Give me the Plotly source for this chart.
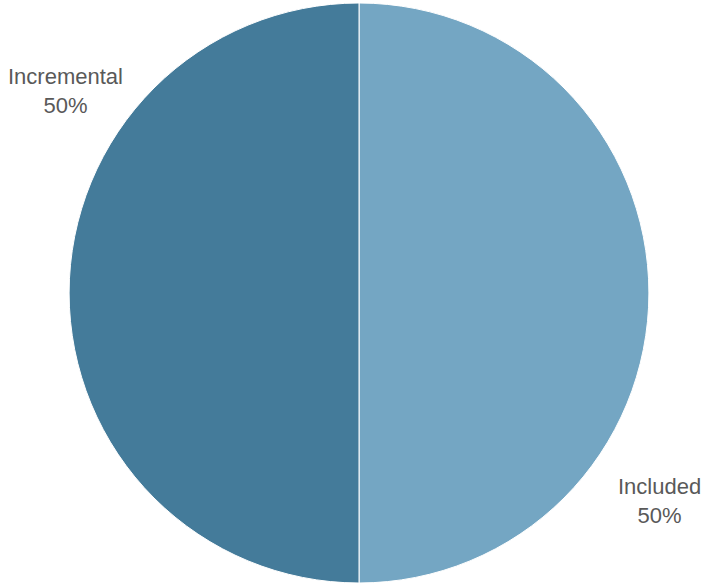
import plotly.graph_objects as go

# Share of items by category
labels = ["Included", "Incremental"]
values = [50, 50]
colors = ["#74A6C3", "#447B9A"]

W, H = 705, 584
total = sum(values)
pcts = [f"{round(v / total * 100)}%" for v in values]

fig = go.Figure(
    go.Pie(
        labels=labels,
        values=values,
        sort=False,
        direction="clockwise",
        rotation=0,
        textinfo="none",
        hoverinfo="label+percent",
        marker=dict(colors=colors, line=dict(color="white", width=1)),
        domain=dict(x=[68 / W, 650 / W], y=[1 - 583 / H, 1 - 3 / H]),
        showlegend=False,
    )
)

# Category labels placed beside the pie
label_pos = {"Included": (659, 501), "Incremental": (65.5, 91)}
for lab, pct in zip(labels, pcts):
    px, py = label_pos[lab]
    fig.add_annotation(
        x=px / W, y=1 - py / H, xref="paper", yref="paper",
        text=f"{lab}<br>{pct}", showarrow=False,
        font=dict(family="Liberation Sans, Arial, sans-serif", size=22, color="#595959"),
        align="center", xanchor="center", yanchor="middle",
    )

fig.update_layout(
    width=W, height=H,
    margin=dict(l=0, r=0, t=0, b=0),
    paper_bgcolor="white", plot_bgcolor="white",
)

fig.write_html("out.html")
